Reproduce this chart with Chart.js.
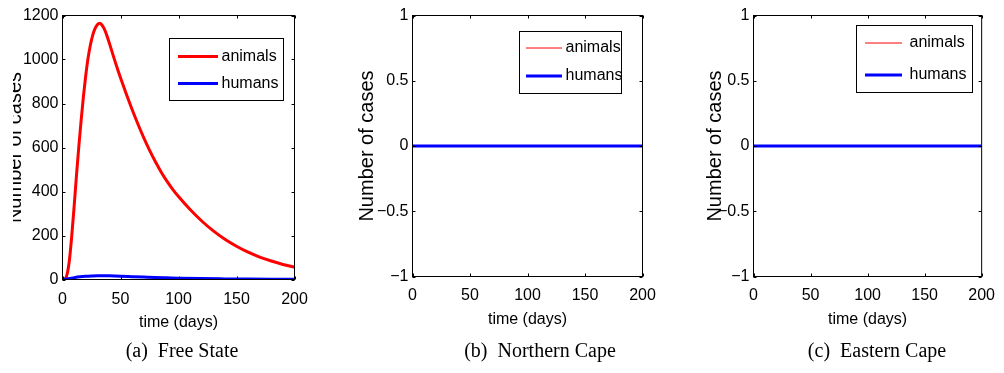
<!DOCTYPE html>
<html>
<head>
<meta charset="utf-8">
<script src="https://cdn.jsdelivr.net/npm/chart.js@4.4.1/dist/chart.umd.min.js"></script>
<style>
  html, body { margin: 0; padding: 0; background: #fff; }
  body { width: 1004px; height: 373px; position: relative; overflow: hidden; }
  canvas { position: absolute; top: 0; display: block; }
  .cap { position: absolute; top: 340px; font-family: 'Liberation Serif', 'Times New Roman', serif;
         font-size: 20px; line-height: 20px; color: #000; white-space: pre; transform: translateX(-50%); }
</style>
</head>
<body>
<canvas id="c1" width="317" height="340" style="left:13px"></canvas>
<canvas id="c2" width="330" height="340" style="left:340px"></canvas>
<canvas id="c3" width="324" height="340" style="left:680px"></canvas>
<div class="cap" id="cap1" style="left:182px"></div>
<div class="cap" id="cap2" style="left:540px"></div>
<div class="cap" id="cap3" style="left:877px"></div>
<script>
// ---------- data ----------
const seriesLabels = ['animals', 'humans'];
const xTitle = 'time (days)';
const yTitle = 'Number of cases';
const captions = ['(a)  Free State', '(b)  Northern Cape', '(c)  Eastern Cape'];

const xTicks = [0, 50, 100, 150, 200];
const yTicksFreeState = [0, 200, 400, 600, 800, 1000, 1200];
const yTicksCape = [-1, -0.5, 0, 0.5, 1];

// Free State
const daysAnimalsFS = [0,2,4,6,8,10,12,14,16,18,20,22,24,26,28,30,32,34,36,38,40,42,44,46,48,50,55,60,65,70,75,80,85,90,95,100,110,120,130,140,150,160,170,180,190,200];
const animalsFS     = [0,2,25,90,200,330,470,600,720,830,925,1005,1065,1110,1140,1158,1165,1157,1139,1113,1081,1047,1013,980,948,917,843,773,707,645,588,536,489,447,410,377,318,266,221,183,151,124,102,84,68.5,56];
const daysHumansFS  = [0,5,10,15,20,25,30,35,40,50,60,70,80,90,100,120,140,160,180,200];
const humansFS      = [0,3,8,12,14.5,16,17,17,16.5,15,13,11,9,7.5,6,4,2.8,1.8,1.2,0.8];

// Northern Cape
const daysNC    = [0, 50, 100, 150, 200];
const animalsNC = [0, 0, 0, 0, 0];
const humansNC  = [0, 0, 0, 0, 0];

// Eastern Cape
const daysEC    = [0, 50, 100, 150, 200];
const animalsEC = [0, 0, 0, 0, 0];
const humansEC  = [0, 0, 0, 0, 0];

// ---------- rendering ----------
Chart.defaults.font.family = "'Liberation Sans', Arial, Helvetica, sans-serif";
Chart.defaults.color = '#000';

const fmt = v => (v < 0 ? '\u2212' + Math.abs(v) : String(v));
const pts = (xs, ys) => xs.map((d, i) => ({ x: d, y: ys[i] }));

const boxPlugin = {
  id: 'matlabBox',
  afterDatasetsDraw(chart, args, o) {
    const { ctx, chartArea: a, scales: { x, y } } = chart;
    ctx.save();
    ctx.strokeStyle = '#000';
    ctx.lineWidth = 1;
    ctx.strokeRect(a.left, a.top, a.right - a.left, a.bottom - a.top);
    const L = 3;
    ctx.beginPath();
    x.ticks.forEach(t => {
      const px = Math.round(x.getPixelForValue(t.value)) + 0.5;
      ctx.moveTo(px, a.bottom); ctx.lineTo(px, a.bottom - L);
      ctx.moveTo(px, a.top); ctx.lineTo(px, a.top + L);
    });
    y.ticks.forEach(t => {
      const py = Math.round(y.getPixelForValue(t.value)) + 0.5;
      ctx.moveTo(a.left, py); ctx.lineTo(a.left + L, py);
      ctx.moveTo(a.right, py); ctx.lineTo(a.right - L, py);
    });
    ctx.stroke();
    // legend box
    ctx.fillStyle = '#fff';
    ctx.fillRect(o.x, o.y, o.w, o.h);
    ctx.strokeRect(o.x, o.y, o.w, o.h);
    ctx.font = "16px 'Liberation Sans', Arial, sans-serif";
    ctx.textBaseline = 'middle';
    ctx.textAlign = 'left';
    chart.data.datasets.forEach((ds, i) => {
      const ry = o.rows[i];
      ctx.beginPath();
      ctx.strokeStyle = ds.borderColor;
      ctx.lineWidth = ds.borderWidth;
      ctx.moveTo(o.lx0, ry); ctx.lineTo(o.lx1, ry);
      ctx.stroke();
      ctx.fillStyle = '#000';
      ctx.fillText(ds.label, o.tx, ry);
    });
    ctx.restore();
  }
};

function build(id, p) {
  return new Chart(document.getElementById(id), {
    type: 'line',
    data: {
      datasets: [
        { label: seriesLabels[0], data: pts(p.ax, p.ay), borderColor: '#ff0000', borderWidth: p.redW,
          pointRadius: 0, cubicInterpolationMode: 'monotone', fill: false, order: 1 },
        { label: seriesLabels[1], data: pts(p.hx, p.hy), borderColor: '#0000ff', borderWidth: 3,
          pointRadius: 0, cubicInterpolationMode: 'monotone', fill: false, order: 0 }
      ]
    },
    options: {
      responsive: false, animation: false, events: [],
      layout: { padding: p.pad },
      plugins: { legend: { display: false }, tooltip: { enabled: false }, matlabBox: p.legend },
      scales: {
        x: {
          type: 'linear', min: 0, max: 200,
          afterBuildTicks: s => { s.ticks = xTicks.map(v => ({ value: v })); },
          afterFit: s => { s.height = p.xh; },
          grid: { display: false, drawTicks: false }, border: { display: false },
          ticks: { padding: p.xtp, font: { size: 16 }, color: '#000', maxRotation: 0, autoSkip: false, callback: fmt },
          title: { display: true, text: xTitle, color: '#000', font: { size: 16 }, padding: { top: 0, bottom: p.xtb } }
        },
        y: {
          type: 'linear', min: p.ymin, max: p.ymax,
          afterBuildTicks: s => { s.ticks = p.yTicks.map(v => ({ value: v })); },
          afterFit: s => { s.width = p.yw; },
          grid: { display: false, drawTicks: false }, border: { display: false },
          ticks: { padding: 4, font: { size: 16 }, color: '#000', autoSkip: false, callback: fmt },
          title: { display: true, text: yTitle, color: '#000', font: { size: 20, lineHeight: p.ylh }, padding: { top: p.ytp, bottom: 0 } }
        }
      }
    },
    plugins: [boxPlugin]
  });
}

build('c1', {
  ax: daysAnimalsFS, ay: animalsFS, hx: daysHumansFS, hy: humansFS, redW: 3,
  yTicks: yTicksFreeState, ymin: 0, ymax: 1200,
  pad: { left: 0, top: 15.5, right: 35.5, bottom: 0 }, yw: 49.5, xh: 60.5,
  xtp: 10, xtb: 8, ylh: 0.25, ytp: 0,
  legend: { x: 156.5, y: 38.5, w: 114, h: 62, rows: [56.5, 83.5], lx0: 165, lx1: 205, tx: 208.5 }
});
build('c2', {
  ax: daysNC, ay: animalsNC, hx: daysNC, hy: humansNC, redW: 1,
  yTicks: yTicksCape, ymin: -1, ymax: 1,
  pad: { left: 0, top: 15.5, right: 27.5, bottom: 0 }, yw: 72.5, xh: 63.5,
  xtp: 9, xtb: 10.5, ylh: 1.2, ytp: 15,
  legend: { x: 179.5, y: 31.5, w: 102, h: 62, rows: [48, 76], lx0: 186, lx1: 222, tx: 225.5 }
});
build('c3', {
  ax: daysEC, ay: animalsEC, hx: daysEC, hy: humansEC, redW: 1,
  yTicks: yTicksCape, ymin: -1, ymax: 1,
  pad: { left: 0, top: 15.5, right: 16.5, bottom: 0 }, yw: 73.5, xh: 63.5,
  xtp: 9, xtb: 10.5, ylh: 1.2, ytp: 23,
  legend: { x: 176.5, y: 25.5, w: 116, h: 67, rows: [43, 75], lx0: 185, lx1: 222, tx: 229.5 }
});

['cap1', 'cap2', 'cap3'].forEach((id, i) => { document.getElementById(id).textContent = captions[i]; });
</script>
</body>
</html>
